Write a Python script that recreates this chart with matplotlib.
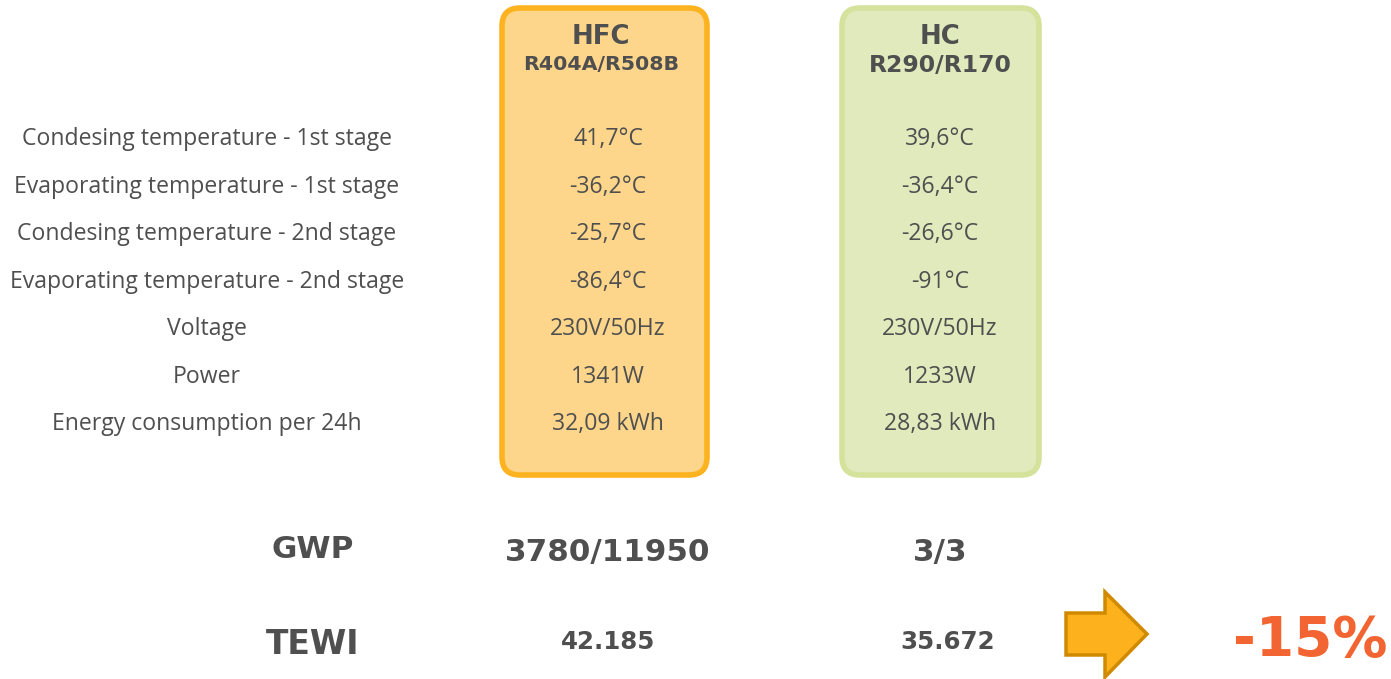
import matplotlib
matplotlib.use("Agg")
import matplotlib.pyplot as plt
from matplotlib.patches import FancyBboxPatch, Polygon

# ---- data ----
row_labels = [
    "Condesing temperature - 1st stage",
    "Evaporating temperature - 1st stage",
    "Condesing temperature - 2nd stage",
    "Evaporating temperature - 2nd stage",
    "Voltage",
    "Power",
    "Energy consumption per 24h",
]
hfc_title = "HFC"
hfc_sub = "R404A/R508B"
hc_title = "HC"
hc_sub = "R290/R170"
hfc_values = ["41,7°C", "-36,2°C", "-25,7°C", "-86,4°C", "230V/50Hz", "1341W", "32,09 kWh"]
hc_values = ["39,6°C", "-36,4°C", "-26,6°C", "-91°C", "230V/50Hz", "1233W", "28,83 kWh"]
gwp_label = "GWP"
gwp_values = ["3780/11950", "3/3"]
tewi_label = "TEWI"
tewi_values = ["42.185", "35.672"]
reduction = "-15%"

W, H = 1391, 679
fig = plt.figure(figsize=(W / 100, H / 100), dpi=100)
ax = fig.add_axes([0, 0, 1, 1])
ax.set_xlim(0, W)
ax.set_ylim(H, 0)
ax.axis("off")

gray = "#4f4f4f"
body_font = "Open Sans"
bold_font = "DejaVu Sans"

def px(p):
    return p * 0.72

# boxes
ax.add_patch(FancyBboxPatch((502, 8), 205, 467, boxstyle="round,pad=0,rounding_size=18",
                            fc="#fdd68b", ec="#fdb320", lw=4))
ax.add_patch(FancyBboxPatch((842, 8), 197, 467, boxstyle="round,pad=0,rounding_size=18",
                            fc="#e0eabd", ec="#d4e29c", lw=4))

hfc_x, hc_x, lab_x = 608, 940, 207
ax.text(601, 37, hfc_title, ha="center", va="center", fontsize=px(26), fontweight="bold",
        family=bold_font, color=gray)
ax.text(601, 64, hfc_sub, ha="center", va="center", fontsize=px(20.5), fontweight="bold",
        family=bold_font, color=gray)
ax.text(hc_x, 37, hc_title, ha="center", va="center", fontsize=px(26), fontweight="bold",
        family=bold_font, color=gray)
ax.text(hc_x, 66, hc_sub, ha="center", va="center", fontsize=px(23.5), fontweight="bold",
        family=bold_font, color=gray)

row_y = [136, 184, 231, 279, 326, 374, 421]
for y, lab, v1, v2 in zip(row_y, row_labels, hfc_values, hc_values):
    ax.text(lab_x, y + 3, lab, ha="center", va="center", fontsize=px(23), family=body_font, color=gray)
    ax.text(hfc_x, y + 3, v1, ha="center", va="center", fontsize=px(23), family=body_font, color=gray)
    ax.text(hc_x, y + 3, v2, ha="center", va="center", fontsize=px(23), family=body_font, color=gray)

ax.text(313, 550, gwp_label, ha="center", va="center", fontsize=px(31), fontweight="bold",
        family=bold_font, color=gray)
ax.text(608, 552, gwp_values[0], ha="center", va="center", fontsize=px(31), fontweight="bold",
        family=bold_font, color=gray)
ax.text(hc_x, 552, gwp_values[1], ha="center", va="center", fontsize=px(31), fontweight="bold",
        family=bold_font, color=gray)
ax.text(313, 644, tewi_label, ha="center", va="center", fontsize=px(33), fontweight="bold",
        family=bold_font, color=gray)
ax.text(608, 642, tewi_values[0], ha="center", va="center", fontsize=px(24.5), fontweight="bold",
        family=bold_font, color=gray)
ax.text(hc_x + 8, 642, tewi_values[1], ha="center", va="center", fontsize=px(24.5), fontweight="bold",
        family=bold_font, color=gray)

arrow = Polygon([(1066, 613), (1105, 613), (1105, 592), (1147, 634), (1105, 677),
                 (1105, 655), (1066, 655)], closed=True, fc="#fdb11c", ec="#d08a00", lw=2.5,
                joinstyle="miter")
ax.add_patch(arrow)
ax.text(1310, 641, reduction, ha="center", va="center", fontsize=px(55), fontweight="bold",
        family=bold_font, color="#f26532")

fig.savefig("out.png", dpi=100)
